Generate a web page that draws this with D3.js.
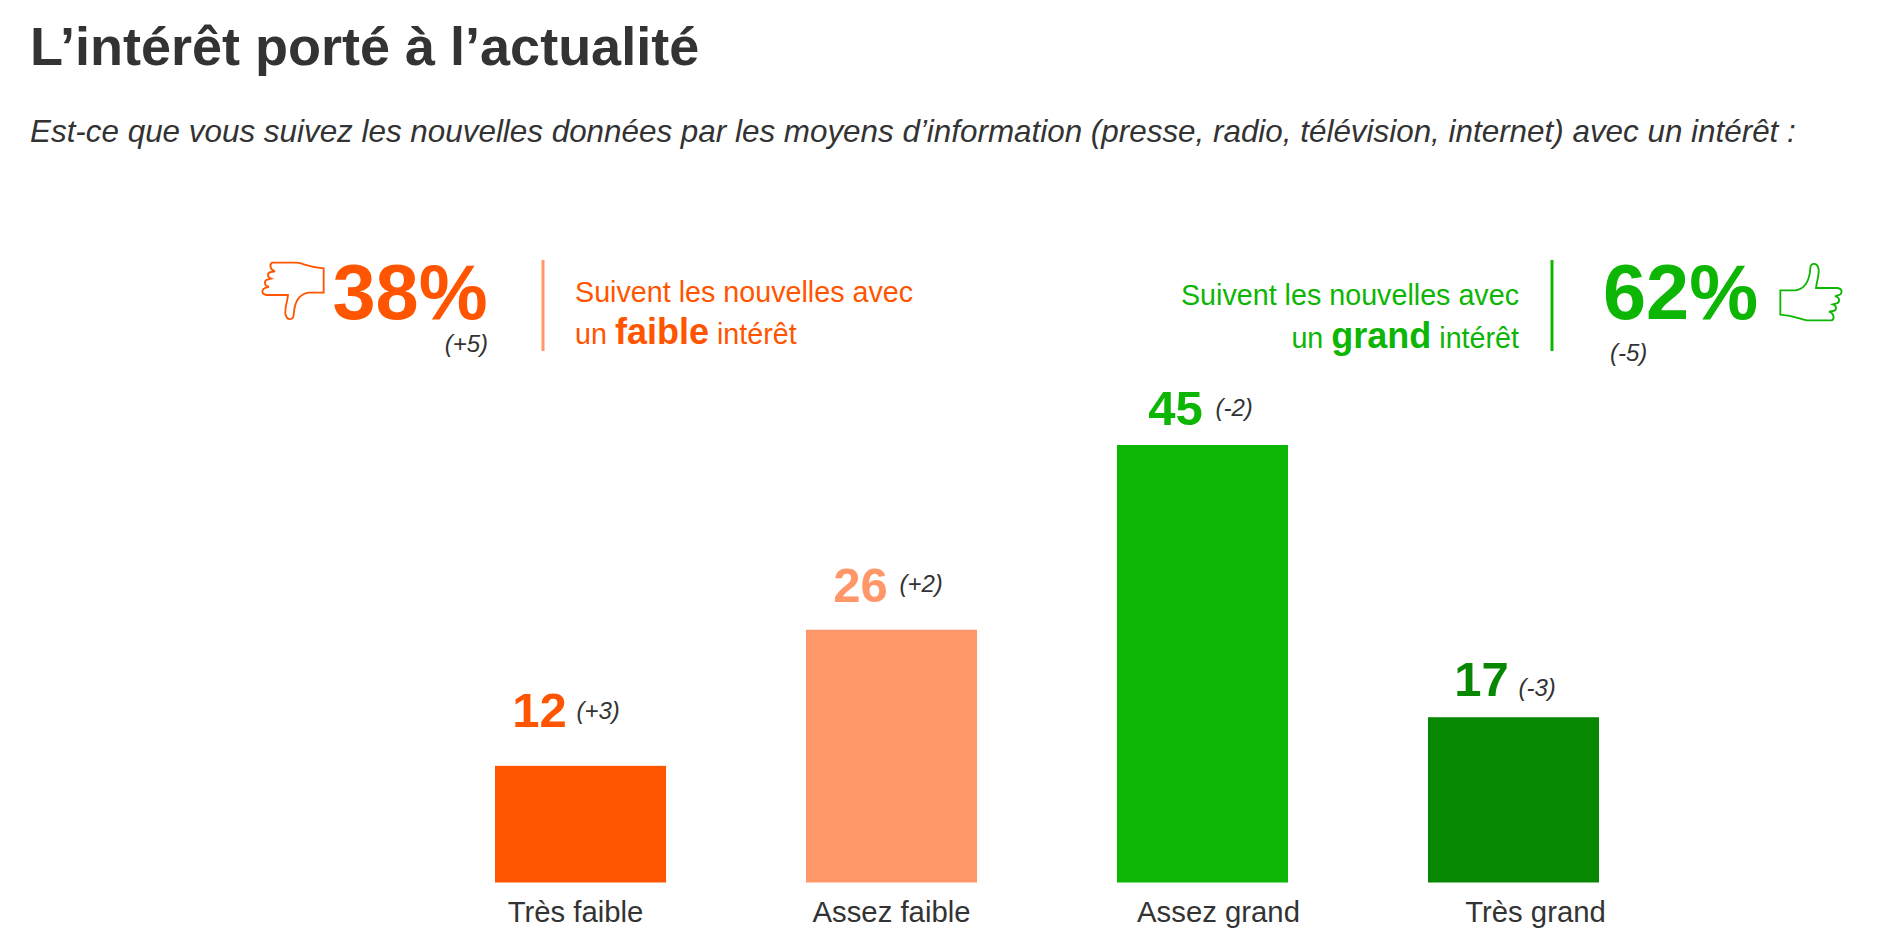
<!DOCTYPE html>
<html lang="fr">
<head>
<meta charset="utf-8">
<title>L’intérêt porté à l’actualité</title>
<script src="https://cdn.jsdelivr.net/npm/d3@7"></script>
<style>
html,body{margin:0;padding:0;background:#fff;overflow:hidden}
text{font-family:"Liberation Sans",Arial,sans-serif}
</style>
</head>
<body>
<svg id="c" width="1880" height="944"></svg>
<script>
const categories = ["Très faible", "Assez faible", "Assez grand", "Très grand"];
const values = [12, 26, 45, 17];
const changes = ["(+3)", "(+2)", "(-2)", "(-3)"];
const barColors = ["#FF5500", "#FF9768", "#0DB504", "#088802"];
const titleText = "L’intérêt porté à l’actualité";
const subtitleText = "Est-ce que vous suivez les nouvelles données par les moyens d’information (presse, radio, télévision, internet) avec un intérêt :";

// layout offsets, apart from the data
const labelDx = [-5, 0, 16, 22];
const valueDx = [-41, -31, -27, -32];
const valueDy = [39, 28, 20, 21];
const changeDx = [-4, 8, 13, 5];
const changeDy = [47, 38, 29, 21];

const TEXT = "#333333", ORANGE = "#FF5500", GREEN = "#0DB504";
const svg = d3.select("#c");

const x = d3.scaleBand().domain(categories).range([495, 1599]).paddingInner(0.45).paddingOuter(0);
const y = d3.scaleLinear().domain([0, 45]).range([882.5, 445]);

svg.append("text").attr("x", 30).attr("y", 65).attr("font-size", 54).attr("font-weight", 700)
  .attr("fill", TEXT).text(titleText);
svg.append("text").attr("x", 30).attr("y", 142).attr("font-size", 31.4).attr("font-style", "italic")
  .attr("fill", TEXT).text(subtitleText);

svg.selectAll("rect.bar").data(values).join("rect").attr("class", "bar")
  .attr("x", (d, i) => x(categories[i])).attr("width", x.bandwidth())
  .attr("y", d => y(d)).attr("height", d => y(0) - y(d))
  .attr("fill", (d, i) => barColors[i]);

const axis = svg.append("g").attr("transform", `translate(0,${y(0)})`)
  .call(d3.axisBottom(x).tickSize(0).tickPadding(0));
axis.select(".domain").remove();
axis.selectAll("text").attr("font-size", 29.3).attr("fill", TEXT)
  .attr("font-family", '"Liberation Sans",Arial,sans-serif')
  .attr("dx", (d, i) => labelDx[i]).attr("dy", 0).attr("y", 39);

const center = (i) => x(categories[i]) + x.bandwidth() / 2;
svg.selectAll("text.val").data(values).join("text").attr("class", "val")
  .attr("x", (d, i) => center(i) + valueDx[i]).attr("y", d => y(d)).attr("dy", (d, i) => -valueDy[i])
  .attr("text-anchor", "middle").attr("font-size", 49).attr("font-weight", 700)
  .attr("fill", (d, i) => barColors[i]).text(d => d);
svg.selectAll("text.chg").data(changes).join("text").attr("class", "chg")
  .attr("x", (d, i) => center(i) + changeDx[i]).attr("y", (d, i) => y(values[i]) - changeDy[i])
  .attr("font-size", 24).attr("font-style", "italic").attr("fill", TEXT).text(d => d);

// summary blocks
const summary = [
  { pct: "38%", chg: "(+5)", word: "faible", color: ORANGE, rule: "#FF9768", ruleX: 543 },
  { pct: "62%", chg: "(-5)", word: "grand", color: GREEN, rule: GREEN, ruleX: 1552 }
];
const L = summary[0], R = summary[1];
svg.append("text").attr("x", 332.5).attr("y", 319).attr("font-size", 77.5).attr("font-weight", 700).attr("fill", L.color).text(L.pct);
svg.append("text").attr("x", 488).attr("y", 352).attr("text-anchor", "end").attr("font-size", 24).attr("font-style", "italic").attr("fill", TEXT).text(L.chg);
svg.append("text").attr("x", 1603).attr("y", 319).attr("font-size", 77.5).attr("font-weight", 700).attr("fill", R.color).text(R.pct);
svg.append("text").attr("x", 1610).attr("y", 361).attr("font-size", 24).attr("font-style", "italic").attr("fill", TEXT).text(R.chg);

[L, R].forEach(s => svg.append("line").attr("x1", s.ruleX).attr("x2", s.ruleX).attr("y1", 260).attr("y2", 351)
  .attr("stroke", s.rule).attr("stroke-width", 3));

function caption(s, xp, y1, y2, anchor) {
  svg.append("text").attr("x", xp).attr("y", y1).attr("text-anchor", anchor).attr("font-size", 28.7).attr("fill", s.color)
    .text("Suivent les nouvelles avec");
  const t = svg.append("text").attr("x", xp).attr("y", y2).attr("text-anchor", anchor).attr("font-size", 28.7).attr("fill", s.color);
  t.append("tspan").text("un ");
  t.append("tspan").attr("font-size", 36).attr("font-weight", 700).text(s.word);
  t.append("tspan").text(" intérêt");
}
caption(L, 575, 302, 344, "start");
caption(R, 1519, 305, 348, "end");

// thumb glyph, drawn once and turned for up / down
const thumb = "M65 38 L140 38 C160 40 175 52 220 55 L220 128 L175 128 C145 132 132 160 130 195 C128 212 108 212 105 190 C104 170 112 150 113 135 L48 135 C32 132 32 116 50 112 L56 110 C40 108 40 90 54 88 L62 86 C50 82 50 68 62 66 L74 64 C60 60 56 44 65 38 Z";
function drawThumb(cx, cy, rot, color) {
  svg.append("path").attr("d", thumb)
    .attr("transform", `translate(${cx},${cy}) rotate(${rot}) scale(${1 / 3}) translate(-128,-123)`)
    .attr("fill", "#fff").attr("stroke", color).attr("stroke-width", 5.5);
}
drawThumb(293, 291, 0, L.color);
drawThumb(1811, 292, 180, R.color);
</script>
</body>
</html>
